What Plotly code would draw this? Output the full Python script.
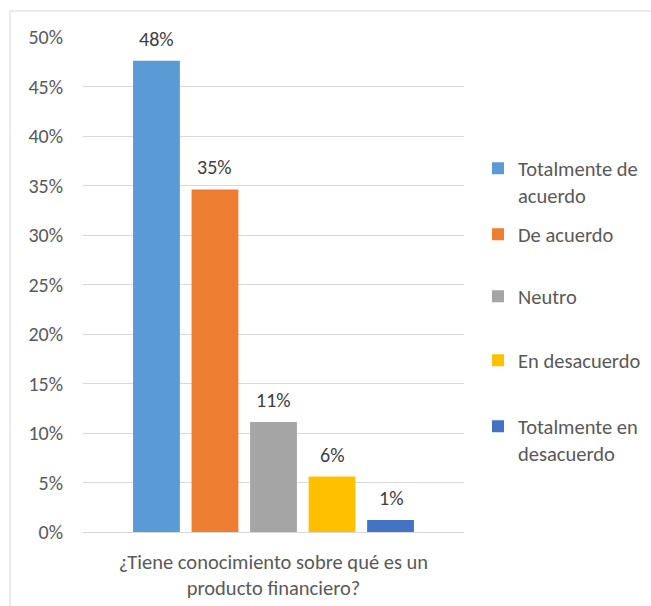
import plotly.graph_objects as go

question = "¿Tiene conocimiento sobre qué es un<br>producto financiero?"
series_names = ["Totalmente de<br>acuerdo", "De acuerdo", "Neutro", "En desacuerdo", "Totalmente en<br>desacuerdo"]
series_values = [0.476, 0.346, 0.111, 0.056, 0.012]
series_colors = ["#5B9BD5", "#ED7D31", "#A5A5A5", "#FFC000", "#4472C4"]
y_ticks = [0, 0.05, 0.10, 0.15, 0.20, 0.25, 0.30, 0.35, 0.40, 0.45, 0.50]

FONT = "Carlito, Lato, sans-serif"
TXT = "#595959"
WORD_SIZE = 20.5
NUM_SIZE = 20

# plot area in pixels
W, H = 651, 606
L, R, T, B = 83, 464, 37, 532
pw, ph = R - L, B - T
BARGAP, BARGROUPGAP = 0.232, 0.2
n = len(series_values)
slot_px = pw * (1 - BARGAP) / n

fig = go.Figure()
legend_ids = ["legend", "legend2", "legend3", "legend4", "legend5"]
annotations = []
for i, (name, v, c, lg) in enumerate(zip(series_names, series_values, series_colors, legend_ids)):
    fig.add_trace(go.Bar(
        x=[question], y=[v], name=name,
        marker=dict(color=c, line=dict(width=0)),
        legend=lg, hoverinfo="skip",
    ))
    annotations.append(dict(
        x=question, y=v, xref="x", yref="y",
        text=f"{v:.0%}", showarrow=False,
        xshift=(i - (n - 1) / 2) * slot_px, yshift=8, yanchor="bottom",
        font=dict(family=FONT, size=NUM_SIZE, color="#404040"),
    ))

legend_first_line_px = [170, 236, 298, 362, 428]
layout_legends = {}
for lg, ypx in zip(legend_ids, legend_first_line_px):
    layout_legends[lg] = dict(
        x=(478 - L) / pw, xanchor="left",
        y=(B - (ypx - 21.5)) / ph, yanchor="top",
        font=dict(family=FONT, size=WORD_SIZE, color=TXT),
        bgcolor="rgba(0,0,0,0)", borderwidth=0,
        valign="top", itemwidth=30, tracegroupgap=0,
    )

fig.update_layout(
    width=W, height=H,
    margin=dict(l=L, r=W - R, t=T, b=H - B, autoexpand=False),
    paper_bgcolor="white", plot_bgcolor="white",
    barmode="group", bargap=BARGAP, bargroupgap=BARGROUPGAP,
    showlegend=True,
    font=dict(family=FONT, size=WORD_SIZE, color=TXT),
    annotations=annotations,
    **layout_legends,
    shapes=[dict(
        type="path", xref="paper", yref="paper",
        path=f"M {(10 - L) / pw},{(B - H) / ph} L {(10 - L) / pw},{(B - 11) / ph} L {(W - L) / pw},{(B - 11) / ph}",
        line=dict(color="#D9D9D9", width=1), layer="below",
    )],
)

fig.update_yaxes(
    range=[0, 0.5], tickvals=y_ticks, tickformat=".0%",
    showgrid=True, gridcolor="#D9D9D9", gridwidth=1,
    zeroline=False, showline=False, ticks="", automargin=False,
    tickfont=dict(family=FONT, size=NUM_SIZE, color=TXT), ticklabelstandoff=19,
)
fig.update_xaxes(
    showgrid=False, showline=True, linecolor="#D9D9D9", linewidth=1,
    ticks="", automargin=False,
    tickfont=dict(family=FONT, size=WORD_SIZE, color=TXT), ticklabelstandoff=11,
)

fig.write_html(
    "out.html",
    config={"displayModeBar": False},
    post_script="document.body.style.margin='0';document.body.style.overflow='hidden';",
)
